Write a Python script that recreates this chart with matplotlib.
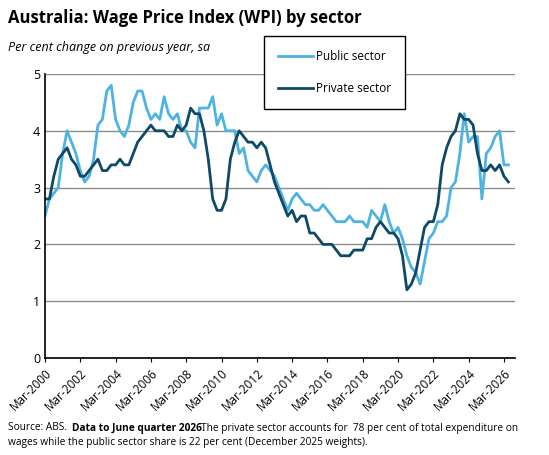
import matplotlib
matplotlib.use("Agg")
import matplotlib.pyplot as plt
import numpy as np

plt.rcParams['font.family'] = ['Open Sans', 'DejaVu Sans']

public = [2.5, 2.8, 2.9, 3.0, 3.6, 4.0, 3.8, 3.6, 3.3, 3.1, 3.2, 3.5,
          4.1, 4.2, 4.7, 4.8, 4.2, 4.0, 3.9, 4.1, 4.5, 4.7, 4.7, 4.4,
          4.2, 4.3, 4.2, 4.6, 4.3, 4.2, 4.3, 4.0, 4.0, 3.8, 3.7, 4.4,
          4.4, 4.4, 4.6, 4.1, 4.3, 4.0, 4.0, 4.0, 3.6, 3.7, 3.3, 3.2,
          3.1, 3.3, 3.4, 3.3, 3.2, 3.0, 2.8, 2.6, 2.8, 2.9, 2.8, 2.7,
          2.7, 2.6, 2.6, 2.7, 2.6, 2.5, 2.4, 2.4, 2.4, 2.5, 2.4, 2.4,
          2.4, 2.3, 2.6, 2.5, 2.4, 2.7, 2.4, 2.2, 2.3, 2.1, 1.8, 1.6,
          1.5, 1.3, 1.7, 2.1, 2.2, 2.4, 2.4, 2.5, 3.0, 3.1, 3.6, 4.3,
          3.8, 3.9, 3.9, 2.8, 3.6, 3.7, 3.9, 4.0, 3.4, 3.4]
private = [2.8, 2.8, 3.2, 3.5, 3.6, 3.7, 3.5, 3.4, 3.2, 3.2, 3.3, 3.4,
           3.5, 3.3, 3.3, 3.4, 3.4, 3.5, 3.4, 3.4, 3.6, 3.8, 3.9, 4.0,
           4.1, 4.0, 4.0, 4.0, 3.9, 3.9, 4.1, 4.0, 4.1, 4.4, 4.3, 4.3,
           4.0, 3.5, 2.8, 2.6, 2.6, 2.8, 3.5, 3.8, 4.0, 3.9, 3.8, 3.8,
           3.7, 3.8, 3.7, 3.4, 3.1, 2.9, 2.7, 2.5, 2.6, 2.4, 2.5, 2.5,
           2.2, 2.2, 2.1, 2.0, 2.0, 2.0, 1.9, 1.8, 1.8, 1.8, 1.9, 1.9,
           1.9, 2.1, 2.1, 2.3, 2.4, 2.3, 2.2, 2.2, 2.1, 1.8, 1.2, 1.3,
           1.5, 1.9, 2.3, 2.4, 2.4, 2.7, 3.4, 3.7, 3.9, 4.0, 4.3, 4.2,
           4.2, 4.1, 3.6, 3.3, 3.3, 3.4, 3.3, 3.4, 3.2, 3.1]
tick_years = list(range(2000, 2027, 2))
tick_labels = ['Mar-%d' % y for y in tick_years]

x = np.arange(len(public))

fig = plt.figure(figsize=(5.49, 4.55), dpi=100)
ax = fig.add_axes([45 / 549, 1 - 358 / 455, 470 / 549, 284 / 455])

l1, = ax.plot(x, public, color='#4eb3e3', lw=2, label='Public sector')
l2, = ax.plot(x, private, color='#0e4a66', lw=2, label='Private sector')

ax.set_ylim(0, 5)
ax.set_xlim(0, len(public) + 0.5)
ax.set_yticks(range(6))
ax.set_xticks([(y - 2000) * 4 for y in tick_years])
ax.set_xticklabels(tick_labels, rotation=45, ha='right', rotation_mode='anchor', fontsize=8.5)
ax.tick_params(axis='y', labelsize=9, length=0)
ax.tick_params(axis='x', length=3)
ax.grid(axis='y', color='#8c8c8c', lw=1)
ax.set_axisbelow(True)
for s in ['top', 'right']:
    ax.spines[s].set_visible(False)
ax.spines['left'].set_linewidth(1.2)
ax.spines['bottom'].set_linewidth(1.2)

leg = fig.legend(handles=[l1, l2], loc='upper left', bbox_to_anchor=(258 / 549, 1 - 30 / 455),
                 fancybox=False, edgecolor='black', framealpha=1, fontsize=8.5,
                 handlelength=3, labelspacing=1.6, borderpad=1.2, handletextpad=0.2)
leg.get_frame().set_linewidth(1)

fig.text(8 / 549, 1 - 18 / 455, 'Australia: Wage Price Index (WPI) by sector',
         fontsize=12, fontweight='bold', va='center')
fig.text(8 / 549, 1 - 47 / 455, 'Per cent change on previous year, sa',
         fontsize=9, style='italic', va='center')
fig.text(8 / 549, 1 - 428 / 455, 'Source: ABS.', fontsize=7.3, va='center')
fig.text(72 / 549, 1 - 428 / 455, 'Data to June quarter 2026.', fontsize=7.3,
         fontweight='bold', va='center')
fig.text(201 / 549, 1 - 428 / 455,
         'The private sector accounts for  78 per cent of total expenditure on',
         fontsize=7.3, va='center')
fig.text(8 / 549, 1 - 443 / 455,
         'wages while the public sector share is 22 per cent (December 2025 weights).',
         fontsize=7.3, va='center')

fig.savefig('out.png', dpi=100)
